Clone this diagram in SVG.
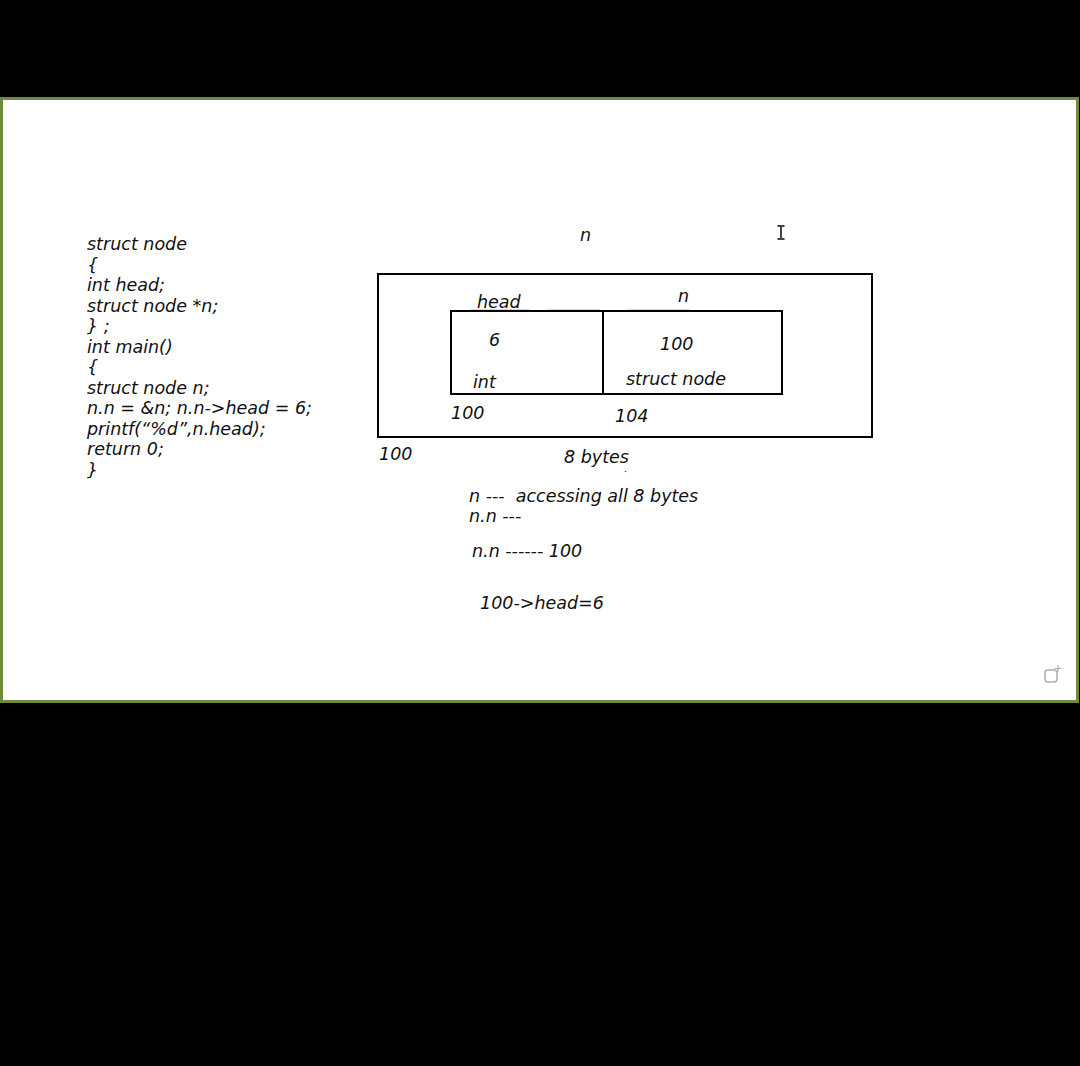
<svg xmlns="http://www.w3.org/2000/svg" width="1080" height="1066" viewBox="0 0 1080 1066">
<style>
text{font-family:"DejaVu Sans","Liberation Sans",sans-serif;font-style:italic;font-size:17.5px;fill:#111;white-space:pre}
.box{fill:none;stroke:#000;stroke-width:2}
.faint{stroke:#c8c8c8;stroke-width:1.5}
</style>
<rect x="0" y="0" width="1080" height="1066" fill="#000"/>
<rect x="1.5" y="98.5" width="1076" height="603" fill="#fff" stroke="#6e8a3e" stroke-width="3"/>
<g id="code">
<text x="87" y="250">struct node</text>
<text x="87" y="270.5">{</text>
<text x="87" y="291">int head;</text>
<text x="87" y="311.5">struct node *n;</text>
<text x="87" y="332">} ;</text>
<text x="87" y="352.5">int main()</text>
<text x="87" y="373">{</text>
<text x="87" y="393.5">struct node n;</text>
<text x="87" y="414">n.n = &amp;n; n.n-&gt;head = 6;</text>
<text x="87" y="434.5">printf(“%d”,n.head);</text>
<text x="87" y="455">return 0;</text>
<text x="87" y="475.5">}</text>
</g>
<g id="outer-n">
<rect class="box" x="378" y="274" width="494" height="163"/>
<text x="580" y="241">n</text>
<text x="379" y="460">100</text>
<text x="564" y="463">8 bytes</text>
<circle cx="625.5" cy="471.5" r="0.8" fill="#555"/>
</g>
<g id="field-head">
<line class="faint" x1="470" y1="310" x2="530" y2="310"/>
<line class="faint" x1="547" y1="310" x2="600" y2="310"/>
<rect class="box" x="451" y="311" width="152" height="83"/>
<text x="477" y="308">head</text>
<text x="489" y="346">6</text>
<text x="473" y="388">int</text>
<text x="451" y="419">100</text>
</g>
<g id="field-n">
<line class="faint" x1="627" y1="310" x2="690" y2="310"/>
<rect class="box" x="603" y="311" width="179" height="83"/>
<text x="678" y="302">n</text>
<text x="660" y="350">100</text>
<text x="626" y="385">struct node</text>
<text x="615" y="422">104</text>
</g>
<g id="notes">
<text x="469" y="502" xml:space="preserve">n ---  accessing all 8 bytes</text>
<text x="469" y="522">n.n ---</text>
<text x="472" y="557">n.n ------ 100</text>
<text x="480" y="609">100-&gt;head=6</text>
</g>
<g id="connectors"></g>
<g id="ui" fill="none">
<path d="M777.5 226h7M777.5 239h7M781 226v13" stroke="#444" stroke-width="2"/>
<rect x="1045" y="670" width="12" height="12" rx="3" stroke="#aaa" stroke-width="1.4"/>
<path d="M1058 665v7M1054.5 668.5h7" stroke="#aaa" stroke-width="1.2"/>
</g>
</svg>
